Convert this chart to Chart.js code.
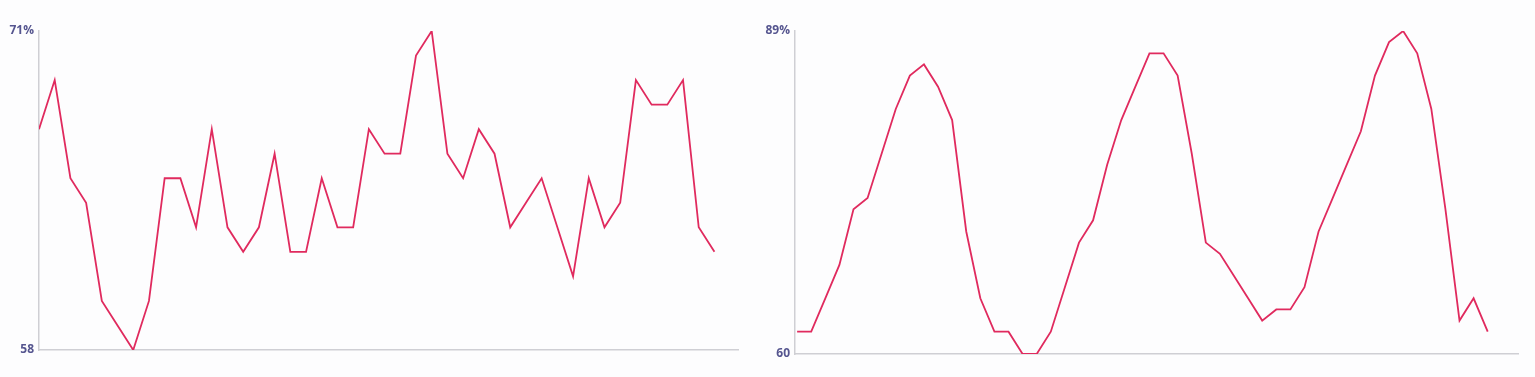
<!DOCTYPE html>
<html>
<head>
<meta charset="utf-8">
<script src="https://cdn.jsdelivr.net/npm/chart.js@4"></script>
<style>
  html, body { margin: 0; padding: 0; background: #fdfdfe; }
  body { width: 1535px; height: 377px; position: relative; overflow: hidden; }
  .wrap { position: absolute; top: 0; height: 377px; }
</style>
</head>
<body>
<div class="wrap" style="left:0;width:760px;"><canvas id="c1" width="760" height="377"></canvas></div>
<div class="wrap" style="left:760px;width:775px;"><canvas id="c2" width="775" height="377"></canvas></div>
<script>
const leftValues = [67,69,65,64,60,59,58,60,65,65,63,67,63,62,63,66,62,62,65,63,63,67,66,66,70,71,66,65,67,66,63,64,65,63,61,65,63,64,69,68,68,69,63,62];
const leftTickValues = [58, 71];
const leftTickLabels = ['58', '71%'];

const rightValues = [62,62,65,68,73,74,78,82,85,86,84,81,71,65,62,62,60,60,62,66,70,72,77,81,84,87,87,85,78,70,69,67,65,63,64,64,66,71,74,77,80,85,88,89,87,82,73,63,65,62];
const rightTickValues = [60, 89];
const rightTickLabels = ['60', '89%'];

function makeChart(id, values, tickValues, tickLabels, xMin, xMax, yAxisWidth, pad) {
  const points = values.map((v, i) => ({ x: i, y: v }));
  return new Chart(document.getElementById(id), {
    type: 'line',
    data: {
      datasets: [{
        data: points,
        borderColor: '#e02a5e',
        borderWidth: 1.8,
        pointRadius: 0,
        tension: 0,
        fill: false
      }]
    },
    options: {
      responsive: false,
      animation: false,
      events: [],
      layout: { padding: pad },
      plugins: { legend: { display: false }, tooltip: { enabled: false } },
      scales: {
        x: {
          type: 'linear',
          min: xMin,
          max: xMax,
          grid: { display: false },
          ticks: { display: false },
          border: { display: true, color: '#cfcfd4', width: 1.5 },
          afterFit: s => { s.height = 0; }
        },
        y: {
          min: tickValues[0],
          max: tickValues[1],
          grid: { display: false },
          border: { display: true, color: '#cfcfd4', width: 1.5 },
          afterBuildTicks: s => { s.ticks = tickValues.map(v => ({ value: v })); },
          ticks: {
            padding: -3,
            color: '#55558f',
            font: { family: '"Open Sans", "DejaVu Sans", sans-serif', size: 12, weight: 'bold' },
            callback: v => tickLabels[tickValues.indexOf(v)]
          },
          afterFit: s => { s.width = yAxisWidth; }
        }
      }
    }
  });
}

makeChart('c1', leftValues, leftTickValues, leftTickLabels, 0, 44.5, 39, { top: 31, bottom: 27, left: 0, right: 22 });
makeChart('c2', rightValues, rightTickValues, rightTickLabels, -0.15, 51.15, 35, { top: 31, bottom: 23, left: 0, right: 17 });
</script>
</body>
</html>
